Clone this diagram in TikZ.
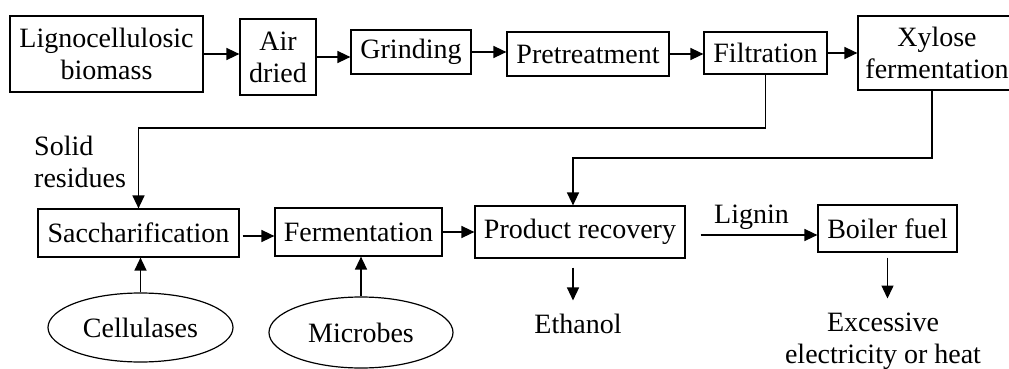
\documentclass[tikz,border=0pt]{standalone}
\usepackage{fontspec}
\setmainfont{Liberation Serif}
\usepackage{tikz}
\usetikzlibrary{arrows.meta,shapes.geometric}
\tikzset{
  box/.style={draw=black, line width=1.2pt, inner sep=0pt, align=center, font=\fontsize{28}{32}\selectfont},
  oval/.style={ellipse, draw=black, line width=1.2pt, inner sep=0pt, font=\fontsize{28}{32}\selectfont},
  arr/.style={draw=black, line width=1.4pt, -{Triangle[length=13pt,width=12pt]}},
  lab/.style={inner sep=4pt, align=center, font=\fontsize{28}{32}\selectfont},
}

\begin{document}
\begin{tikzpicture}[x=1pt,y=-1pt]
  \useasboundingbox (0,0) rectangle (1009,369);
  % top row
  \node[box, minimum width=193pt, minimum height=76pt] (bio) at (106.5,54) {Lignocellulosic\\biomass};
  \node[box, minimum width=76pt, minimum height=76pt] (air) at (278,57) {Air\\dried};
  \node[box, minimum width=120pt, minimum height=44pt] (grind) at (411,52) {Grinding};
  \node[box, minimum width=162pt, minimum height=44pt] (pre) at (588,54) {Pretreatment};
  \node[box, minimum width=123pt, minimum height=42pt] (filt) at (765.5,53) {Filtration};
  \node[box, minimum width=158pt, minimum height=74pt] (xyl) at (937,53) {Xylose\\fermentation};
  \draw[arr] (bio.east) -- (bio.east -| air.west);
  \draw[arr] (air.east) -- (air.east -| grind.west);
  \draw[arr] (grind.east) -- (grind.east -| pre.west);
  \draw[arr] (pre.east) -- (pre.east -| filt.west);
  \draw[arr] (filt.east) -- (filt.east -| xyl.west);
  % second row
  \node[box, minimum width=201pt, minimum height=48pt] (sac) at (138.5,233) {Saccharification};
  \node[box, minimum width=167pt, minimum height=48pt] (fer) at (358.5,232) {Fermentation};
  \node[box, minimum width=210pt, minimum height=52pt] (rec) at (580,232) {Product recovery};
  \node[box, minimum width=139pt, minimum height=47pt] (boil) at (887.5,228.5) {Boiler fuel};
  \node[oval, minimum width=185pt, minimum height=69pt] (cel) at (140.5,327.5) {Cellulases};
  \node[oval, minimum width=184pt, minimum height=71pt] (mic) at (361,332.5) {Microbes};
  \node[lab, anchor=west, align=left] (solid) at (30,161.5) {Solid\\residues};
  \node[lab] (eth) at (578,323.5) {Ethanol};
  \node[lab] (exc) at (883,341) {Excessive\\electricity or heat};
  % connectors
  \coordinate (fbend) at (0,128);
  \coordinate (xbend) at (0,158);
  \draw[arr] (filt.south) -- (filt.south |- fbend) -| (sac.north);
  \draw[arr] ([xshift=-5pt]xyl.south) -- ([xshift=-5pt]xyl.south |- xbend) -| ([xshift=-7pt]rec.north);
  \draw[arr, shorten <=3pt] (sac.east |- 0,236) -- (fer.west |- 0,236);
  \draw[arr] (fer.east) -- (fer.east -| rec.west);
  \draw[arr, shorten <=15pt] (rec.east |- 0,235) -- (boil.west |- 0,235) node[midway, above, lab, inner sep=5pt] (lig) {Lignin};
  \draw[arr] (cel.north) -- (cel.north |- sac.south);
  \draw[arr] (mic.north) -- (mic.north |- fer.south);
  \draw[arr, shorten <=9pt, shorten >=9pt] ([xshift=-7pt]rec.south) -- ([xshift=-7pt]rec.south |- eth.north);
  \draw[arr, shorten <=5pt, shorten >=10pt] (boil.south) -- (boil.south |- exc.north);
\end{tikzpicture}
\end{document}
